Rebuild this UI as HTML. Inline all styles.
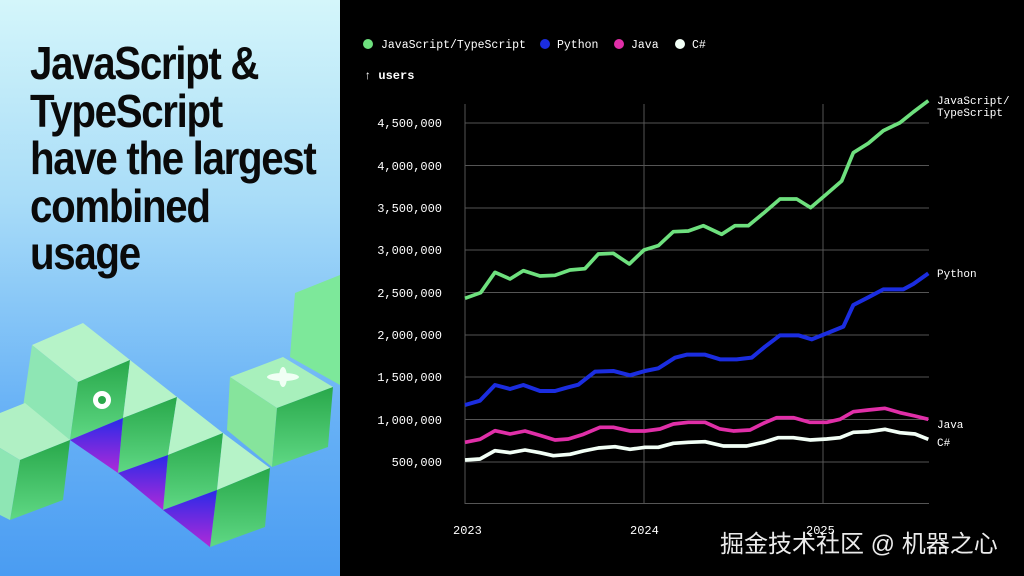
<!DOCTYPE html>
<html><head><meta charset="utf-8"><style>
html,body{margin:0;padding:0;width:1024px;height:576px;overflow:hidden;background:#000}
.left{position:absolute;left:0;top:0;width:340px;height:576px;background:linear-gradient(180deg,#d4f6fa 0%,#a8dcf8 35%,#6ab3f6 70%,#4a9cf2 100%)}
.title{position:absolute;left:30px;top:40px;font-family:"Liberation Sans",sans-serif;font-weight:bold;font-size:46px;line-height:47.5px;color:#0a0a0a;letter-spacing:-1.5px;transform:scaleX(0.875);transform-origin:0 0;white-space:nowrap}
svg{position:absolute;left:0;top:0}
.m{font-family:"Liberation Mono",monospace;fill:#fff}
</style></head><body>
<div class="left"></div>
<svg width="340" height="576" viewBox="0 0 340 576">
<defs>
<linearGradient id="dg" x1="0" y1="0" x2="0" y2="1"><stop offset="0" stop-color="#28a84a"/><stop offset="1" stop-color="#5fd884"/></linearGradient>
<linearGradient id="pg" x1="0" y1="0" x2="0" y2="1"><stop offset="0" stop-color="#2a2ae8"/><stop offset="1" stop-color="#b02ad8"/></linearGradient>
</defs>
<polygon points="295,293 340,275 340,385 290,357" fill="#7de89a"/>
<polygon points="32,345 83,323 130,360 78,382" fill="#b6f3c8"/>
<polygon points="32,345 23,407 70,440 78,382" fill="#8ee6b4"/>
<polygon points="78,382 130,360 123,418 70,440" fill="url(#dg)"/>
<polygon points="130,360 177,397 123,418" fill="#b6f3c8"/>
<polygon points="123,418 177,397 168,455 118,473" fill="url(#dg)"/>
<polygon points="70,440 123,418 118,473" fill="url(#pg)"/>
<polygon points="177,397 223,433 168,455" fill="#b6f3c8"/>
<polygon points="168,455 223,433 217,490 163,510" fill="url(#dg)"/>
<polygon points="118,473 168,455 163,510" fill="url(#pg)"/>
<polygon points="223,433 270,468 217,490" fill="#b6f3c8"/>
<polygon points="217,490 270,468 265,527 210,547" fill="url(#dg)"/>
<polygon points="163,510 217,490 210,547" fill="url(#pg)"/>
<polygon points="230,377 283,357 333,387 277,408" fill="#a8f0bc"/>
<polygon points="230,377 227,430 272,467 277,408" fill="#86e49c"/>
<polygon points="277,408 333,387 328,447 272,467" fill="url(#dg)"/>
<polygon points="0,413 25,403 70,440 20,460 0,448" fill="#b0f0c4"/>
<polygon points="20,460 70,440 63,500 10,520" fill="url(#dg)"/>
<polygon points="0,448 20,460 10,520 0,515" fill="#8ee6b4"/>
<circle cx="102" cy="400" r="9" fill="#fff"/><circle cx="102" cy="400" r="4" fill="#2aa84a"/>
<ellipse cx="283" cy="377" rx="16" ry="4" fill="#f0fff4"/><ellipse cx="283" cy="377" rx="4" ry="10" fill="#f0fff4"/>
</svg>
<div class="title">JavaScript &amp;<br>TypeScript<br>have the largest<br>combined<br>usage</div>
<svg width="1024" height="576" viewBox="0 0 1024 576" style="left:0;top:0">
<g stroke="#555" stroke-width="1">
<line x1="465" y1="123" x2="929" y2="123"/><line x1="465" y1="165.5" x2="929" y2="165.5"/>
<line x1="465" y1="208" x2="929" y2="208"/><line x1="465" y1="250" x2="929" y2="250"/>
<line x1="465" y1="292.5" x2="929" y2="292.5"/><line x1="465" y1="335" x2="929" y2="335"/>
<line x1="465" y1="377" x2="929" y2="377"/><line x1="465" y1="419.5" x2="929" y2="419.5"/>
<line x1="465" y1="462" x2="929" y2="462"/><line x1="465" y1="503.5" x2="929" y2="503.5"/>
<line x1="465" y1="104" x2="465" y2="504"/><line x1="644" y1="104" x2="644" y2="504"/><line x1="823" y1="104" x2="823" y2="504"/>
</g>
<g transform="translate(440,80) scale(0.33333)" fill="none" stroke-linejoin="round">
<polyline stroke="#6ee07e" stroke-width="11" points="75,655 122,638 165,577 210,597 250,572 300,588 345,586 390,570 435,566 475,522 520,520 568,552 612,510 655,497 700,455 745,453 790,437 845,463 885,437 925,437 970,400 1020,357 1070,357 1112,383 1160,342 1205,303 1240,218 1285,190 1330,152 1380,128 1420,96 1465,62"/>
<polyline stroke="#1b2de0" stroke-width="12" points="75,975 120,962 165,915 210,927 250,915 300,933 345,933 380,923 415,914 465,875 520,873 570,886 615,873 655,865 705,833 740,824 795,824 840,838 890,838 935,833 975,800 1020,766 1075,766 1115,778 1160,760 1210,740 1240,675 1285,652 1330,628 1390,628 1420,612 1465,580"/>
<polyline stroke="#e02fa8" stroke-width="11" points="75,1087 120,1078 165,1052 210,1062 255,1053 300,1066 345,1080 385,1077 430,1063 480,1042 520,1042 570,1053 615,1053 660,1047 700,1032 745,1027 795,1027 840,1047 880,1053 930,1050 970,1030 1010,1013 1060,1013 1110,1027 1160,1027 1200,1018 1240,995 1285,990 1335,985 1380,998 1425,1008 1465,1018"/>
<polyline stroke="#f2fff6" stroke-width="11" points="75,1140 120,1137 165,1112 210,1118 255,1110 300,1118 340,1127 390,1123 430,1113 475,1104 525,1100 570,1108 615,1102 655,1102 700,1090 745,1087 795,1085 850,1098 920,1098 970,1087 1015,1073 1060,1073 1110,1080 1160,1077 1200,1073 1240,1057 1285,1055 1335,1048 1380,1058 1425,1062 1465,1078"/>
</g>
<g class="m" font-size="12" text-anchor="end">
<text x="442" y="127">4,500,000</text><text x="442" y="170">4,000,000</text>
<text x="442" y="212">3,500,000</text><text x="442" y="254">3,000,000</text>
<text x="442" y="297">2,500,000</text><text x="442" y="339">2,000,000</text>
<text x="442" y="381">1,500,000</text><text x="442" y="424">1,000,000</text>
<text x="442" y="466">500,000</text>
</g>
<g class="m" font-size="12">
<text x="453" y="534">2023</text><text x="630" y="534">2024</text><text x="806" y="534">2025</text>
<text x="937" y="104" font-size="11">JavaScript/</text><text x="937" y="116" font-size="11">TypeScript</text>
<text x="937" y="277" font-size="11">Python</text><text x="937" y="428" font-size="11">Java</text><text x="937" y="446" font-size="11">C#</text>
<text x="364" y="79" font-weight="bold">↑ users</text>
<text x="381" y="48" font-size="11.5">JavaScript/TypeScript</text>
<text x="557" y="48" font-size="11.5">Python</text>
<text x="631" y="48" font-size="11.5">Java</text>
<text x="692" y="48" font-size="11.5">C#</text>
</g>
<circle cx="368" cy="44" r="5" fill="#6ee07e"/><circle cx="545" cy="44" r="5" fill="#1b2de0"/>
<circle cx="619" cy="44" r="5" fill="#e02fa8"/><circle cx="680" cy="44" r="5" fill="#f2fff6"/>
<text x="720" y="552" font-family="'Liberation Sans','Noto Sans CJK SC',sans-serif" font-size="24" fill="#fff" fill-opacity="0.92">掘金技术社区 @ 机器之心</text>
</svg>
</body></html>
